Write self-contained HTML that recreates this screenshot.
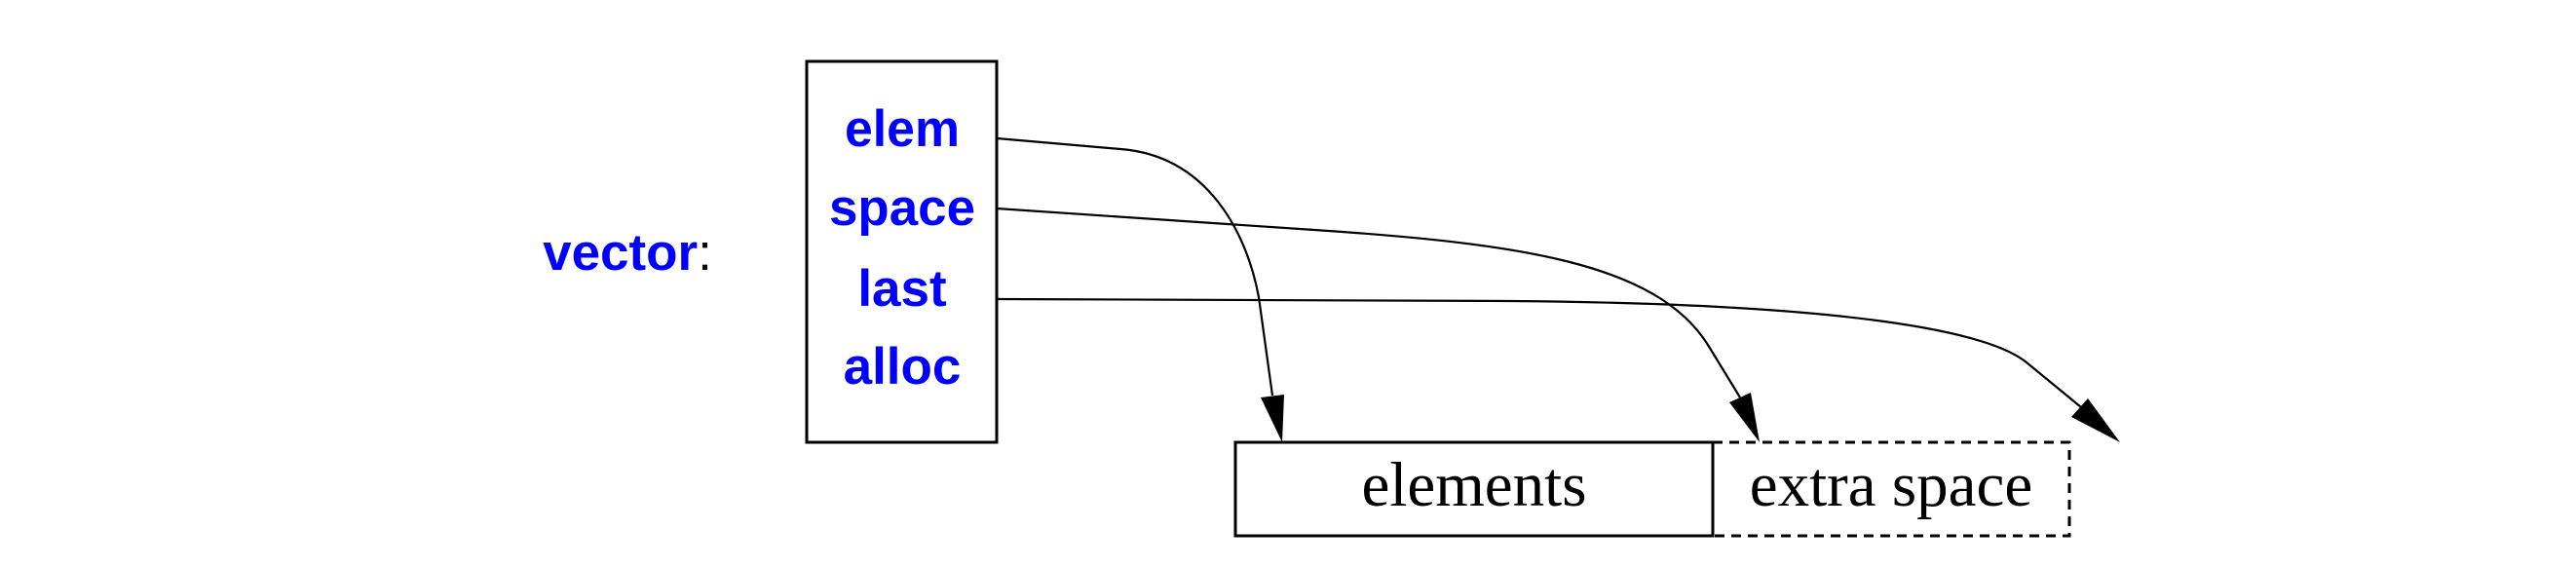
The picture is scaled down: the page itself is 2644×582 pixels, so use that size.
<!DOCTYPE html>
<html><head><meta charset="utf-8"><style>html,body{margin:0;padding:0;background:#fff}svg{display:block}</style></head>
<body>
<svg width="2644" height="582" viewBox="0 0 2644 582" xmlns="http://www.w3.org/2000/svg">
<rect width="2644" height="582" fill="#fff"/>
<g font-family="Liberation Sans, sans-serif" font-weight="bold" font-size="50" fill="#0000ff" text-anchor="middle">
<text x="926" y="150" textLength="118" lengthAdjust="spacingAndGlyphs" font-size="53">elem</text>
<text x="926" y="231" textLength="150" lengthAdjust="spacingAndGlyphs" font-size="53">space</text>
<text x="926" y="314" font-size="53">last</text>
<text x="926" y="394" font-size="53">alloc</text>
<text x="644" y="277" font-size="53">vector<tspan fill="#000" font-weight="normal">:</tspan></text>
</g>
<rect x="828" y="63" width="195" height="391" fill="none" stroke="#000" stroke-width="3"/>
<rect x="1268" y="454" width="490" height="96" fill="none" stroke="#000" stroke-width="3"/>
<path d="M1758 454 H2124 V550 H1758" fill="none" stroke="#000" stroke-width="3" stroke-dasharray="10,7"/>
<g font-family="Liberation Serif, serif" font-size="65" fill="#000" text-anchor="middle">
<text x="1513" y="519">elements</text>
<text x="1941" y="519">extra space</text>
</g>
<g fill="none" stroke="#000" stroke-width="2.2">
<path d="M1023 142 L1150 153 C1240 160 1280 240 1292 305 L1306 406"/>
<path d="M1023 214 L1349 236 C1560 250 1700 270 1753 354 L1786 408"/>
<path d="M1023 307 L1551 309 C1900 312 2040 340 2080 372 L2136 418"/>
</g>
<g fill="#000">
<polygon points="1316,454 1294,408 1318,405"/>
<polygon points="1806,454 1775,413 1797,403"/>
<polygon points="2176,454 2126,428 2143,409"/>
</g>
</svg>
</body></html>
